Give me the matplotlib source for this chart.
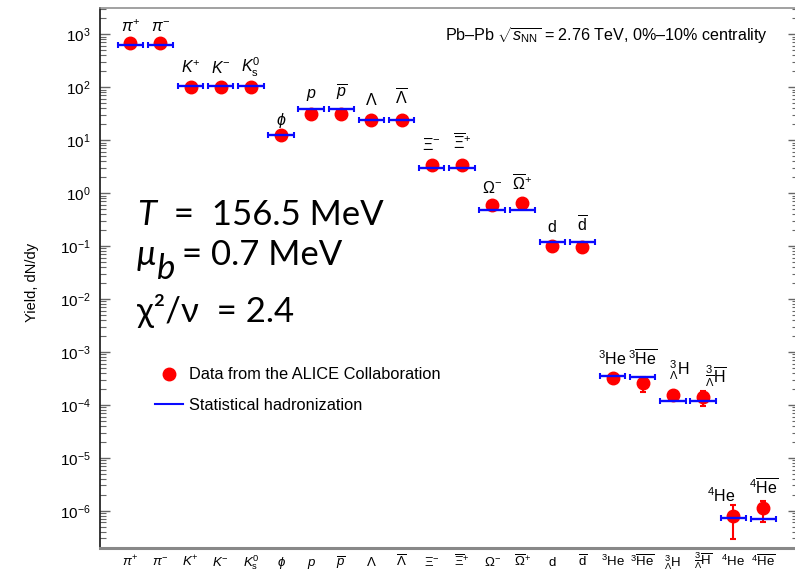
import numpy as np
import matplotlib
matplotlib.use('Agg')
import matplotlib.pyplot as plt
from matplotlib.lines import Line2D
from matplotlib.ticker import LogLocator, NullFormatter

plt.rcParams['font.family'] = ['Liberation Sans', 'DejaVu Sans']
plt.rcParams['mathtext.fontset'] = 'custom'
plt.rcParams['mathtext.rm'] = 'Liberation Sans'
plt.rcParams['mathtext.it'] = 'Liberation Sans:italic'
plt.rcParams['mathtext.bf'] = 'Liberation Sans:bold'
plt.rcParams['mathtext.sf'] = 'Liberation Sans'

# particle species (same strings on the axis and above the points)
species = [r'$\pi^{+}$', r'$\pi^{-}$', r'$K^{+}$', r'$K^{-}$', r'$K^{0}_{\mathrm{s}}$',
           r'$\phi$', r'$p$', r'$\overline{p}$', r'$\Lambda$', r'$\overline{\Lambda}$',
           r'$\Xi^{-}$', r'$\overline{\Xi}^{+}$', r'$\Omega^{-}$', r'$\overline{\Omega}^{+}$',
           r'$\mathrm{d}$', r'$\overline{\mathrm{d}}$',
           r'${}^{3}\mathrm{He}$', r'${}^{3}\overline{\mathrm{He}}$',
           r'${}^{3}_{\Lambda}\mathrm{H}$', r'${}^{3}_{\overline{\Lambda}}\overline{\mathrm{H}}$',
           r'${}^{4}\mathrm{He}$', r'${}^{4}\overline{\mathrm{He}}$']

# measured yields dN/dy (ALICE, Pb-Pb 0-10%)
alice_yield = [694, 694, 102, 102, 103, 12.7, 31.6, 31.6, 24.4, 24.4,
               3.4, 3.4, 0.596, 0.64, 0.100, 0.097,
               3.17e-4, 2.55e-4, 1.53e-4, 1.42e-4, 7.9e-7, 1.11e-6]
err_low = [46, 46, 9, 9, 9, 1.7, 2.9, 2.9, 2.9, 2.9,
           0.26, 0.26, 0.07, 0.07, 0.02, 0.02,
           0.5e-4, 0.78e-4, 0.3e-4, 0.47e-4, 5.0e-7, 4.9e-7]
err_high = [46, 46, 9, 9, 9, 1.7, 2.9, 2.9, 2.9, 2.9,
            0.26, 0.26, 0.07, 0.07, 0.02, 0.02,
            0.5e-4, 0.85e-4, 0.3e-4, 0.43e-4, 4.9e-7, 4.4e-7]

# statistical hadronization model
shm_yield = [628, 628, 107, 107, 107, 12.7, 38.3, 38.3, 23.7, 23.7,
             2.94, 2.94, 0.486, 0.486, 0.118, 0.118,
             3.5e-4, 3.4e-4, 1.18e-4, 1.17e-4, 7.2e-7, 6.97e-7]

# label shifts above each point, in pixels (dx, dy)
label_dx = [0] * 18 + [6, 13, -12, 0]
label_dy = [11, 11, 13, 13, 13, 10, 11, 11, 15, 15, 15, 15, 12, 12, 10, 10,
            11, 11, 20, 14, 14, 13]

x = np.arange(len(species))
fig = plt.figure(figsize=(7.95, 5.71), dpi=100)
ax = fig.add_axes([0.1252, 0.0408, 0.8786, 0.9452])

ax.errorbar(x, alice_yield, yerr=[err_low, err_high], fmt='o', color='#ff0000',
            markersize=9, elinewidth=1.5, capsize=2.5, capthick=1.5, zorder=2)
ax.errorbar(x, shm_yield, xerr=0.42, fmt='none', ecolor='#0a0aff',
            elinewidth=1.7, capsize=2.0, capthick=1.5, zorder=3)

px = 72.0 / fig.dpi
for i, lab in enumerate(species):
    top = max(alice_yield[i], shm_yield[i])
    ax.annotate(lab, xy=(i, top), xytext=(label_dx[i] * px, label_dy[i] * px),
                textcoords='offset points', ha='center', va='baseline', fontsize=11.5)

ax.set_yscale('log')
ax.set_xlim(-1.02, 22.15)
ax.set_ylim(2e-7, 3.14e3)
ax.yaxis.set_major_locator(LogLocator(base=10, numticks=30))
ax.yaxis.set_minor_locator(LogLocator(base=10, subs=np.arange(2, 10), numticks=30))
ax.yaxis.set_minor_formatter(NullFormatter())
ax.tick_params(axis='y', which='major', direction='in', left=True, right=True,
               length=7.2, width=1.0, color='#666666', labelsize=11, pad=6.5)
ax.tick_params(axis='y', which='minor', direction='in', left=True, right=True,
               length=4.3, width=0.8, color='#666666')
ax.set_xticks(x)
ax.set_xticklabels(species)
ax.tick_params(axis='x', length=0, labelsize=9.5, pad=13.5)
# keep all species names on one baseline, whatever their overlines
for lbl in ax.get_xticklabels():
    lbl.set_verticalalignment('baseline')

ax.spines['left'].set_color('black')
ax.spines['left'].set_linewidth(1.1)
ax.spines['bottom'].set_color('#888888')
ax.spines['bottom'].set_linewidth(2.2)
ax.spines['top'].set_color('#888888')
ax.spines['top'].set_linewidth(1.1)

ax.set_ylabel('Yield, dN/dy', fontsize=10.5)
ax.yaxis.set_label_coords(-0.087, 0.492)

ax.text(0.957, 0.948, r'Pb–Pb $\sqrt{s_{\mathrm{NN}}}$ = 2.76 TeV, 0%–10% centrality',
        transform=ax.transAxes, ha='right', va='center', fontsize=11.6)

handles = [Line2D([], [], marker='o', color='#ff0000', linestyle='none', markersize=9),
           Line2D([], [], color='#0a0aff', lw=1.5)]
ax.legend(handles, ['Data from the ALICE Collaboration', 'Statistical hadronization'],
          loc='upper left', bbox_to_anchor=(0.0795, 0.334), frameon=False,
          fontsize=11.8, handlelength=1.7, handletextpad=0.4, labelspacing=0.93,
          borderpad=0, borderaxespad=0)

# fit results
big = dict(fontsize=25, family=['Lato', 'Noto Sans', 'DejaVu Sans'], color='black')
t_lab = ax.text(0.0537, 0.598, 'T', fontstyle='italic', transform=ax.transAxes,
                va='baseline', **big)
ax.annotate('  =  156.5 MeV', xy=(1, 0), xycoords=t_lab, va='bottom', **big)
mu_lab = ax.text(0.0537, 0.524, 'μ', fontstyle='italic', transform=ax.transAxes,
                 va='baseline', **big)
b_lab = ax.annotate('b', xy=(1, 0), xycoords=mu_lab, xytext=(0.5, -10),
                    textcoords='offset points', va='bottom', fontstyle='italic', **big)
ax.annotate(' = 0.7 MeV', xy=(1, 0), xycoords=b_lab, xytext=(-1.5, 10),
            textcoords='offset points', va='bottom', **big)
ax.text(0.0537, 0.418, 'χ²/ν  = 2.4', transform=ax.transAxes, va='baseline', **big)

fig.savefig('out.png', dpi=100)
